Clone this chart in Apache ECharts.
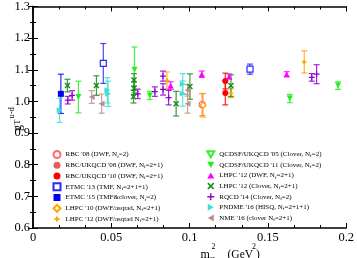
<!DOCTYPE html>
<html><head><meta charset="utf-8">
<script src="https://cdn.jsdelivr.net/npm/echarts@6/dist/echarts.min.js"></script>
<style>html,body{margin:0;padding:0;background:#fff}#c{width:357px;height:258px}</style>
</head><body><div id="c"></div>
<script>
// tick labels
const xTickLabels = [0, 0.05, 0.1, 0.15, 0.2];
const yTickLabels = [0.6, 0.7, 0.8, 0.9, 1.0, 1.1, 1.2, 1.3];
// data rows: [m_pi^2 (GeV^2), g_T^{u-d}, error]
const rbc08      = [[0.108, 0.990, 0.035]];
const rbcukqcd08 = [];
const rbcukqcd10 = [[0.1228, 1.0645, 0.025], [0.1228, 1.027, 0.038]];
const etmc13     = [[0.0449, 1.120, 0.063], [0.1386, 1.102, 0.016]];
const etmc15     = [[0.0178, 1.024, 0.062]];
const lhpc10     = [[0.1086, 0.988, 0.037]];
const lhpc12asq  = [[0.0855, 1.066, 0.027], [0.1264, 1.026, 0.014], [0.1732, 1.125, 0.035]];
const qcdsf05    = [];
const qcdsf11    = [[0.029, 1.014, 0.050], [0.0648, 1.100, 0.072], [0.0746, 1.019, 0.013], [0.164, 1.009, 0.013], [0.1948, 1.050, 0.012]];
const lhpc12dwf  = [[0.0879, 1.050, 0.012], [0.1078, 1.086, 0.010], [0.1253, 1.079, 0.008], [0.162, 1.086, 0.008]];
const lhpc12clv  = [[0.022, 1.050, 0.020], [0.0405, 1.050, 0.031], [0.0645, 1.068, 0.020], [0.0645, 1.042, 0.020], [0.0642, 1.015, 0.020], [0.0914, 0.993, 0.039], [0.1002, 1.047, 0.040], [0.1264, 1.050, 0.034]];
const rqcd       = [[0.0222, 1.004, 0.012], [0.025, 1.019, 0.015], [0.0669, 1.024, 0.015], [0.0778, 1.031, 0.015], [0.083, 1.080, 0.016], [0.083, 1.038, 0.018], [0.0866, 1.012, 0.023], [0.178, 1.076, 0.012], [0.1811, 1.086, 0.030]];
const pndme      = [[0.017, 0.972, 0.038], [0.0475, 1.035, 0.040], [0.048, 1.024, 0.040], [0.0956, 1.055, 0.033], [0.0956, 1.025, 0.040]];
const nme        = [[0.0375, 1.014, 0.020], [0.0438, 0.993, 0.030], [0.0987, 1.035, 0.018], [0.0987, 0.993, 0.030]];

const DOWN = 'path://M0,0 L2,0 L1,1.73 Z';
const UP = 'path://M1,0 L2,1.73 L0,1.73 Z';
const LEFT = 'path://M0,1 L1.73,0 L1.73,2 Z';
const RIGHT = 'path://M0,0 L1.73,1 L0,2 Z';
const PLUS = 'path://M2,0 L3,0 L3,2 L5,2 L5,3 L3,3 L3,5 L2,5 L2,3 L0,3 L0,2 L2,2 Z';
const CROSS = 'path://M0,1 L1,0 L3,2 L5,0 L6,1 L4,3 L6,5 L5,6 L3,4 L1,6 L0,5 L2,3 Z';
const STAR = 'path://M3,0 L4,2 L6,3 L4,4 L3,6 L2,4 L0,3 L2,2 Z';

const defs = [
  ["RBC '08 (DWF, Nf=2)", rbc08, 'circle', '#ff6a6a', true],
  ["RBC/UKQCD '08 (DWF, Nf=2+1)", rbcukqcd08, 'circle', '#f05a5a', false],
  ["RBC/UKQCD '10 (DWF, Nf=2+1)", rbcukqcd10, 'circle', '#ff0000', false],
  ["ETMC '13 (TMF, Nf=2+1+1)", etmc13, 'rect', '#2a2aff', true],
  ["ETMC '15 (TMF&clover, Nf=2)", etmc15, 'rect', '#0000ff', false],
  ["LHPC '10 (DWF/asqtad, Nf=2+1)", lhpc10, 'diamond', '#ffa500', true],
  ["LHPC '12 (DWF/asqtad Nf=2+1)", lhpc12asq, STAR, '#ffa500', false],
  ["QCDSF/UKQCD '05 (Clover, Nf=2)", qcdsf05, DOWN, '#33ee33', true],
  ["QCDSF/UKQCD '11 (Clover, Nf=2)", qcdsf11, DOWN, '#22ee22', false],
  ["LHPC '12 (DWF, Nf=2+1)", lhpc12dwf, UP, '#ff00ff', false],
  ["LHPC '12 (Clover, Nf=2+1)", lhpc12clv, CROSS, '#1a8b1a', false],
  ["RQCD '14 (Clover, Nf=2)", rqcd, PLUS, '#9400d3', false],
  ["PNDME '16 (HISQ, Nf=2+1+1)", pndme, RIGHT, '#40e0d0', false],
  ["NME '16 (clover Nf=2+1)", nme, LEFT, '#bc8f8f', false]
];

const series = [];
defs.forEach(([name, data, sym, color, empty]) => {
  series.push({
    type: 'custom', name: name + ' err', data: data, z: 2, silent: true,
    encode: {x: 0, y: 1},
    renderItem: function (params, api) {
      const x = api.value(0), y = api.value(1), e = api.value(2);
      const a = api.coord([x, y + e]), b = api.coord([x, y - e]);
      const w = 3;
      const st = {stroke: color, lineWidth: 1.2, opacity: 0.85};
      return {type: 'group', children: [
        {type: 'line', shape: {x1: a[0], y1: a[1], x2: b[0], y2: b[1]}, style: st},
        {type: 'line', shape: {x1: a[0] - w, y1: a[1], x2: a[0] + w, y2: a[1]}, style: st},
        {type: 'line', shape: {x1: b[0] - w, y1: b[1], x2: b[0] + w, y2: b[1]}, style: st}
      ]};
    }
  });
  series.push({
    type: 'scatter', name: name, data: data.map(d => [d[0], d[1]]), z: 3,
    symbol: sym, symbolSize: 6,
    itemStyle: empty ? {color: '#fff', borderColor: color, borderWidth: 1.2, opacity: 1}
                     : {color: color, opacity: 1}
  });
});

const serifFont = 'Liberation Serif';
const legendCommon = {
  orient: 'vertical', itemWidth: 7, itemHeight: 7, itemGap: 2, padding: 0,
  textStyle: {fontFamily: serifFont, fontSize: 7, color: '#000', lineHeight: 8.6,
    rich: {s: {fontFamily: serifFont, fontSize: 5, verticalAlign: 'bottom', lineHeight: 5.5, color: '#000'}}},
  formatter: n => n.replace('Nf', 'N{s|f}'),
  selectedMode: false
};

const chart = echarts.init(document.getElementById('c'), null, {renderer: 'canvas'});
chart.setOption({
  animation: false,
  backgroundColor: '#fff',
  grid: {left: 33, right: 6, top: 3, bottom: 30},
  xAxis: [{
    type: 'value', min: xTickLabels[0], max: xTickLabels[xTickLabels.length - 1], interval: 0.05,
    axisLine: {lineStyle: {color: '#000', width: 1.5}},
    axisTick: {inside: true, length: 5, lineStyle: {color: '#000'}},
    minorTick: {show: true, splitNumber: 3, length: 3, lineStyle: {color: '#000'}},
    splitLine: {show: false},
    axisLabel: {color: '#000', fontFamily: serifFont, fontSize: 12.5, margin: 3,
      formatter: v => String(+v.toFixed(2))}
  }, {
    type: 'value', position: 'top', min: 0, max: 0.2, interval: 0.05,
    axisLine: {lineStyle: {color: '#000', width: 1.5}},
    axisTick: {inside: true, length: 5, lineStyle: {color: '#000'}},
    minorTick: {show: true, splitNumber: 3, length: 3, lineStyle: {color: '#000'}},
    splitLine: {show: false}, axisLabel: {show: false}
  }],
  yAxis: [{
    type: 'value', min: yTickLabels[0], max: yTickLabels[yTickLabels.length - 1], interval: 0.1,
    axisLine: {lineStyle: {color: '#000', width: 1.5}},
    axisTick: {inside: true, length: 5, lineStyle: {color: '#000'}},
    minorTick: {show: true, splitNumber: 2, length: 3, lineStyle: {color: '#000'}},
    splitLine: {show: false},
    axisLabel: {color: '#000', fontFamily: serifFont, fontSize: 12.5, margin: 3,
      formatter: v => v.toFixed(1)}
  }, {
    type: 'value', position: 'right', min: 0.6, max: 1.3, interval: 0.1,
    axisLine: {lineStyle: {color: '#000', width: 1.5}},
    axisTick: {inside: true, length: 5, lineStyle: {color: '#000'}},
    minorTick: {show: true, splitNumber: 2, length: 3, lineStyle: {color: '#000'}},
    splitLine: {show: false}, axisLabel: {show: false}
  }],
  legend: [
    Object.assign({left: 52.5, top: 150, data: defs.slice(0, 7).map(d => d[0])}, legendCommon),
    Object.assign({left: 206.3, top: 150, data: defs.slice(7).map(d => d[0])}, legendCommon)
  ],
  graphic: [
    {type: 'text', x: 200.5, y: 249, style: {text: 'm', font: '12px "Liberation Serif"', fill: '#000', textVerticalAlign: 'alphabetic'}},
    {type: 'text', x: 210.5, y: 254, style: {text: 'π', font: '9px "Liberation Serif"', fill: '#000', textVerticalAlign: 'alphabetic'}},
    {type: 'text', x: 211.5, y: 243, style: {text: '2', font: '8px "Liberation Serif"', fill: '#000', textVerticalAlign: 'alphabetic'}},
    {type: 'text', x: 227.5, y: 249, style: {text: '(GeV', font: '11.5px "Liberation Serif"', fill: '#000', textVerticalAlign: 'alphabetic'}},
    {type: 'text', x: 252, y: 243, style: {text: '2', font: '8px "Liberation Serif"', fill: '#000', textVerticalAlign: 'alphabetic'}},
    {type: 'text', x: 256, y: 249, style: {text: ')', font: '11.5px "Liberation Serif"', fill: '#000', textVerticalAlign: 'alphabetic'}},
    {type: 'group', x: 12, y: 131, rotation: Math.PI / 2, children: [
      {type: 'text', x: 0, y: 0, style: {text: 'g', font: '12px "Liberation Serif"', fill: '#000', textVerticalAlign: 'alphabetic'}},
      {type: 'text', x: 6.5, y: 2, style: {text: 'T', font: '8px "Liberation Serif"', fill: '#000', textVerticalAlign: 'alphabetic'}},
      {type: 'text', x: 12.5, y: -5, style: {text: 'u-d', font: '8.5px "Liberation Serif"', fill: '#000', textVerticalAlign: 'alphabetic'}}
    ]}
  ],
  series: series
});
</script></body></html>
